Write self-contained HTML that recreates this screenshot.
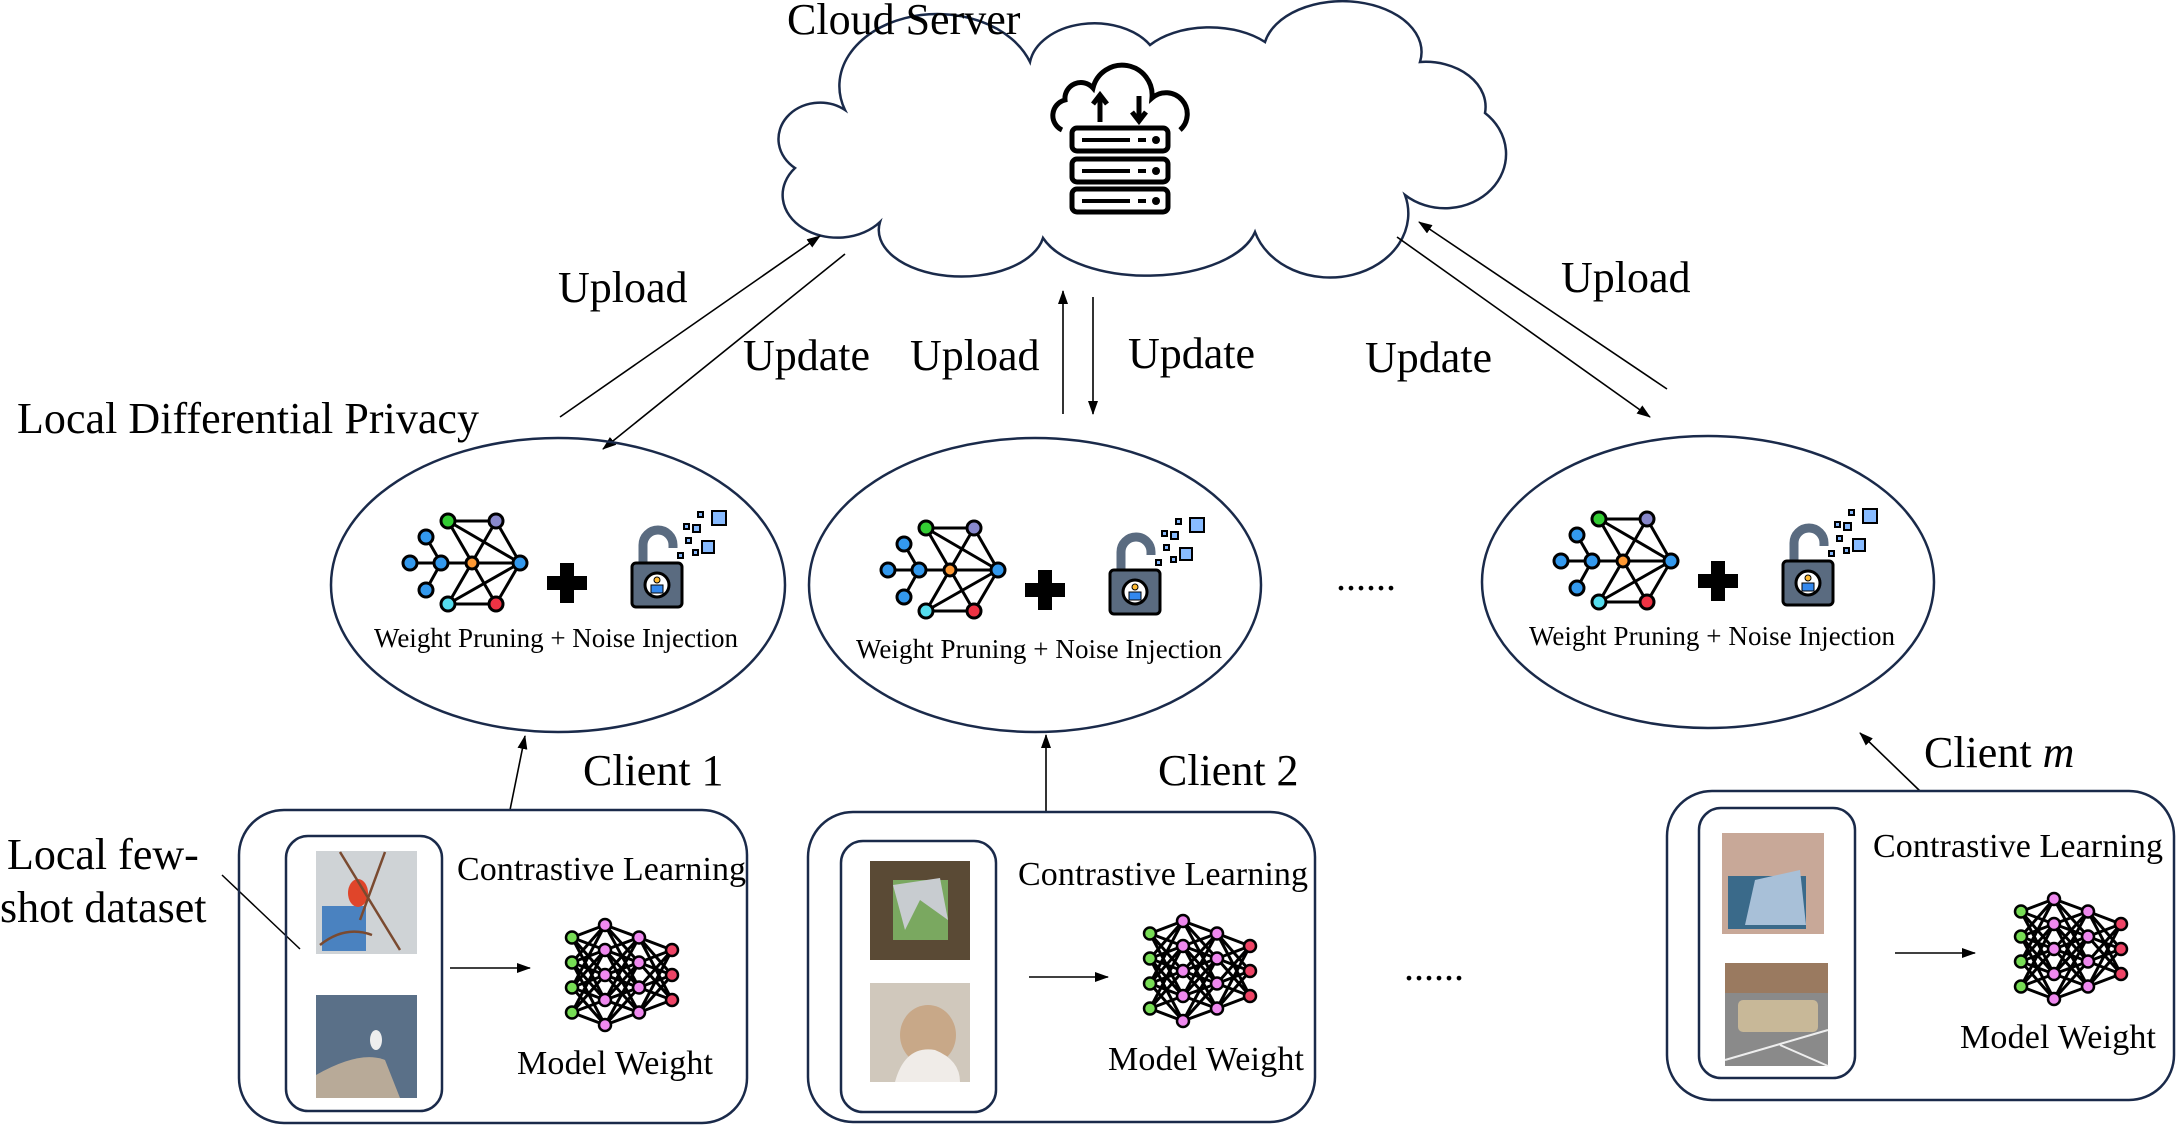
<!DOCTYPE html>
<html><head><meta charset="utf-8"><style>
html,body{margin:0;padding:0;background:#fff;}
svg{display:block;}
text{font-family:"Liberation Serif",serif;fill:#000;}
</style></head><body>
<svg width="2178" height="1127" viewBox="0 0 2178 1127" xmlns="http://www.w3.org/2000/svg">
<defs>
<marker id="ah" markerWidth="14" markerHeight="10" refX="13" refY="5" orient="auto" markerUnits="userSpaceOnUse">
<path d="M0,0 L14,5 L0,10 z" fill="#000"/></marker>
<g id="prune" stroke="#000" stroke-width="3">
<line x1="410" y1="563" x2="520" y2="563"/>
<line x1="426" y1="537" x2="441" y2="563"/><line x1="426" y1="590" x2="441" y2="563"/>
<line x1="448" y1="521" x2="496" y2="521"/><line x1="448" y1="604" x2="496" y2="604"/>
<line x1="448" y1="521" x2="496" y2="604"/><line x1="496" y1="521" x2="448" y2="604"/>
<line x1="448" y1="521" x2="520" y2="563"/><line x1="448" y1="604" x2="520" y2="563"/>
<line x1="496" y1="521" x2="520" y2="563"/><line x1="496" y1="604" x2="520" y2="563"/>
<circle cx="448" cy="521" r="7" fill="#3c3"/><circle cx="496" cy="521" r="7" fill="#88c"/>
<circle cx="426" cy="537" r="7" fill="#39e"/><circle cx="410" cy="563" r="7" fill="#39e"/>
<circle cx="441" cy="563" r="7" fill="#39e"/><circle cx="472" cy="563" r="6" fill="#f93"/>
<circle cx="520" cy="563" r="7" fill="#39e"/><circle cx="426" cy="590" r="7" fill="#39e"/>
<circle cx="448" cy="604" r="7" fill="#5de"/><circle cx="496" cy="604" r="7" fill="#e34"/>
</g>
<g id="plus"><rect x="547" y="576" width="40" height="14"/><rect x="560" y="563" width="14" height="40"/></g>
<g id="lock" stroke="#000" stroke-width="3">
<path d="M643,565 V545 A15,15 0 0 1 673,545 V548" fill="none" stroke="#5a6b80" stroke-width="9"/>
<rect x="632" y="563" width="50" height="44" rx="4" fill="#5a6b80"/>
<circle cx="657" cy="585" r="12" fill="#fff"/>
<circle cx="657" cy="580" r="3" fill="#fb3" stroke-width="1"/>
<rect x="651" y="585" width="12" height="8" fill="#38e" stroke-width="1"/>
<rect x="712" y="511" width="14" height="14" fill="#8bf" stroke-width="2"/>
<rect x="702" y="541" width="12" height="12" fill="#8bf" stroke-width="2"/>
<rect x="698" y="512" width="5" height="5" fill="#8bf" stroke-width="2"/>
<rect x="684" y="524" width="5" height="5" fill="#8bf" stroke-width="2"/>
<rect x="693" y="525" width="7" height="7" fill="#8bf" stroke-width="2"/>
<rect x="686" y="538" width="5" height="5" fill="#8bf" stroke-width="2"/>
<rect x="678" y="553" width="5" height="5" fill="#8bf" stroke-width="2"/>
<rect x="693" y="550" width="5" height="5" fill="#8bf" stroke-width="2"/>
</g>
<g id="net">
<g stroke="#000" stroke-width="3" fill="none">
<path d="M-50,-37.5 L-17,-50 M-50,-37.5 L-17,-25 M-50,-37.5 L-17,0 M-50,-37.5 L-17,25
M-50,-12.5 L-17,-50 M-50,-12.5 L-17,-25 M-50,-12.5 L-17,0 M-50,-12.5 L-17,25 M-50,-12.5 L-17,50
M-50,12.5 L-17,-50 M-50,12.5 L-17,-25 M-50,12.5 L-17,0 M-50,12.5 L-17,25 M-50,12.5 L-17,50
M-50,37.5 L-17,-25 M-50,37.5 L-17,0 M-50,37.5 L-17,25 M-50,37.5 L-17,50
M-17,-50 L17,-37.5 M-17,-50 L17,-12.5 M-17,-50 L17,12.5
M-17,-25 L17,-37.5 M-17,-25 L17,-12.5 M-17,-25 L17,12.5 M-17,-25 L17,37.5
M-17,0 L17,-37.5 M-17,0 L17,-12.5 M-17,0 L17,12.5 M-17,0 L17,37.5
M-17,25 L17,-37.5 M-17,25 L17,-12.5 M-17,25 L17,12.5 M-17,25 L17,37.5
M-17,50 L17,-12.5 M-17,50 L17,12.5 M-17,50 L17,37.5
M17,-37.5 L50,-25 M17,-37.5 L50,0 M17,-37.5 L50,25
M17,-12.5 L50,-25 M17,-12.5 L50,0 M17,-12.5 L50,25
M17,12.5 L50,-25 M17,12.5 L50,0 M17,12.5 L50,25
M17,37.5 L50,-25 M17,37.5 L50,0 M17,37.5 L50,25"/>
</g>
<g stroke="#000" stroke-width="2.5">
<g fill="#7d5"><circle cx="-50" cy="-37.5" r="6"/><circle cx="-50" cy="-12.5" r="6"/><circle cx="-50" cy="12.5" r="6"/><circle cx="-50" cy="37.5" r="6"/></g>
<g fill="#e8e"><circle cx="-17" cy="-50" r="6"/><circle cx="-17" cy="-25" r="6"/><circle cx="-17" cy="0" r="6"/><circle cx="-17" cy="25" r="6"/><circle cx="-17" cy="50" r="6"/>
<circle cx="17" cy="-37.5" r="6"/><circle cx="17" cy="-12.5" r="6"/><circle cx="17" cy="12.5" r="6"/><circle cx="17" cy="37.5" r="6"/></g>
<g fill="#e46"><circle cx="50" cy="-25" r="6"/><circle cx="50" cy="0" r="6"/><circle cx="50" cy="25" r="6"/></g>
</g>
</g>
</defs>

<!-- Cloud -->
<path d="M880,222 A45,35 0 0 1 795,168 A40,35 0 0 1 845,110 A75,55 0 0 1 1030,62 A65,45 0 0 1 1150,45 A75,45 0 0 1 1265,42 A70,45 0 0 1 1420,62 A60,45 0 0 1 1485,113 A45,40 0 0 1 1405,195 A55,45 0 0 1 1255,232 A110,55 0 0 1 1043,238 A80,45 0 0 1 880,222 Z" fill="#fff" stroke="#1a2a4a" stroke-width="2.5"/>
<text x="787" y="34" font-size="44">Cloud Server</text>
<!-- server icon -->
<g stroke="#000" stroke-width="5" fill="#fff">
<path d="M1062,130 A16,16 0 0 1 1065,100 A16,16 0 0 1 1093,88 A30,30 0 0 1 1152,98 A18,18 0 0 1 1180,130" fill="none"/>
<line x1="1100" y1="122" x2="1100" y2="96"/><path d="M1093,104 L1100,95 L1107,104" fill="none"/>
<line x1="1139" y1="96" x2="1139" y2="120"/><path d="M1132,112 L1139,121 L1146,112" fill="none"/>
<rect x="1072" y="128" width="96" height="23" rx="5"/><rect x="1072" y="159" width="96" height="23" rx="5"/><rect x="1072" y="189" width="96" height="23" rx="5"/>
<g stroke-width="4"><line x1="1082" y1="140" x2="1130" y2="140"/><line x1="1082" y1="171" x2="1130" y2="171"/><line x1="1082" y1="201" x2="1130" y2="201"/>
<line x1="1138" y1="140" x2="1146" y2="140"/><line x1="1138" y1="171" x2="1146" y2="171"/><line x1="1138" y1="201" x2="1146" y2="201"/></g>
<g fill="#000" stroke="none"><circle cx="1156" cy="140" r="4"/><circle cx="1156" cy="171" r="4"/><circle cx="1156" cy="201" r="4"/></g>
</g>

<!-- arrows -->
<g stroke="#000" stroke-width="1.6" marker-end="url(#ah)">
<line x1="560" y1="417" x2="820" y2="236"/>
<line x1="845" y1="254" x2="603" y2="449"/>
<line x1="1063" y1="414" x2="1063" y2="291"/>
<line x1="1093" y1="297" x2="1093" y2="414"/>
<line x1="1397" y1="237" x2="1650" y2="417"/>
<line x1="1667" y1="389" x2="1419" y2="222"/>
<line x1="510" y1="810" x2="525" y2="736"/>
<line x1="1046" y1="812" x2="1046" y2="735"/>
<line x1="1920" y1="791" x2="1860" y2="733"/>
<line x1="450" y1="968" x2="530" y2="968"/>
<line x1="1029" y1="977" x2="1108" y2="977"/>
<line x1="1895" y1="953" x2="1975" y2="953"/>
</g>
<line x1="222" y1="875" x2="300" y2="949" stroke="#000" stroke-width="1.5"/>

<g font-size="44">
<text x="558" y="302">Upload</text>
<text x="743" y="370">Update</text>
<text x="910" y="370">Upload</text>
<text x="1128" y="368">Update</text>
<text x="1365" y="372">Update</text>
<text x="1561" y="292">Upload</text>
<text x="17" y="433" textLength="462">Local Differential Privacy</text>
</g>

<!-- ellipses -->
<g fill="none" stroke="#1a2a4a" stroke-width="2.5">
<ellipse cx="558" cy="585" rx="227" ry="147"/>
<ellipse cx="1035" cy="585" rx="226" ry="147"/>
<ellipse cx="1708" cy="582" rx="226" ry="146"/>
</g>
<g><use href="#prune"/><use href="#plus"/><use href="#lock"/></g>
<g transform="translate(478,7)"><use href="#prune"/><use href="#plus"/><use href="#lock"/></g>
<g transform="translate(1151,-2)"><use href="#prune"/><use href="#plus"/><use href="#lock"/></g>
<g font-size="27">
<text x="374" y="647" textLength="364">Weight Pruning + Noise Injection</text>
<text x="856" y="658" textLength="366">Weight Pruning + Noise Injection</text>
<text x="1529" y="645" textLength="366">Weight Pruning + Noise Injection</text>
</g>
<text x="1336" y="590" font-size="40">......</text>
<text x="1404" y="980" font-size="40">......</text>

<!-- client boxes -->
<g fill="none" stroke="#1a2a4a" stroke-width="2.5">
<rect x="239" y="810" width="508" height="313" rx="45"/>
<rect x="286" y="836" width="156" height="275" rx="22"/>
<rect x="808" y="812" width="507" height="310" rx="45"/>
<rect x="841" y="841" width="155" height="271" rx="22"/>
<rect x="1667" y="791" width="507" height="309" rx="45"/>
<rect x="1699" y="808" width="156" height="270" rx="22"/>
</g>
<!-- images -->
<rect x="316" y="851" width="101" height="103" fill="#cfd3d6"/>
<rect x="322" y="906" width="44" height="45" fill="#4a82c0"/>
<ellipse cx="358" cy="893" rx="10" ry="14" fill="#e0452a"/>
<path d="M340,852 L400,950 M385,852 L360,920 M320,945 Q345,925 372,935" stroke="#7a4a30" stroke-width="2.5" fill="none"/>
<rect x="316" y="995" width="101" height="103" fill="#5a7088"/>
<path d="M316,1098 L316,1075 Q360,1050 385,1060 L400,1098 Z" fill="#b8aa98"/>
<ellipse cx="376" cy="1040" rx="6" ry="10" fill="#eee"/>
<rect x="870" y="861" width="100" height="99" fill="#5a4a35"/>
<rect x="893" y="880" width="55" height="60" fill="#7aa860"/>
<path d="M893,885 L940,878 L948,920 L920,900 L905,930 Z" fill="#c8ccd0"/>
<rect x="870" y="983" width="100" height="99" fill="#d0c8bc"/>
<ellipse cx="928" cy="1035" rx="28" ry="30" fill="#c8a888"/>
<path d="M895,1082 Q905,1045 935,1050 Q960,1060 960,1082 Z" fill="#f0ece8"/>
<rect x="1722" y="833" width="102" height="101" fill="#c8a898"/>
<rect x="1728" y="876" width="78" height="53" fill="#3a6a8a"/>
<path d="M1745,925 L1755,880 L1800,870 L1806,925 Z" fill="#a8c0d8"/>
<rect x="1725" y="963" width="103" height="103" fill="#8a8a8a"/>
<rect x="1725" y="963" width="103" height="30" fill="#9a7a60"/>
<rect x="1738" y="1000" width="80" height="32" rx="5" fill="#c8b898"/>
<path d="M1725,1060 L1828,1030 M1780,1045 L1828,1066" stroke="#eee" stroke-width="2"/>
<use href="#net" transform="translate(622,975)"/>
<use href="#net" transform="translate(1200,971)"/>
<use href="#net" transform="translate(2071,949)"/>
<g font-size="44">
<text x="583" y="785">Client 1</text>
<text x="1158" y="785">Client 2</text>
<text x="1924" y="767">Client <tspan font-style="italic">m</tspan></text>
<text x="7" y="869">Local few-</text>
<text x="0" y="922">shot dataset</text>
</g>
<g font-size="34">
<text x="457" y="880" textLength="289">Contrastive Learning</text>
<text x="1018" y="885" textLength="290">Contrastive Learning</text>
<text x="1873" y="857" textLength="290">Contrastive Learning</text>
<text x="517" y="1074" textLength="196">Model Weight</text>
<text x="1108" y="1070" textLength="196">Model Weight</text>
<text x="1960" y="1048" textLength="196">Model Weight</text>
</g>
</svg>
</body></html>
